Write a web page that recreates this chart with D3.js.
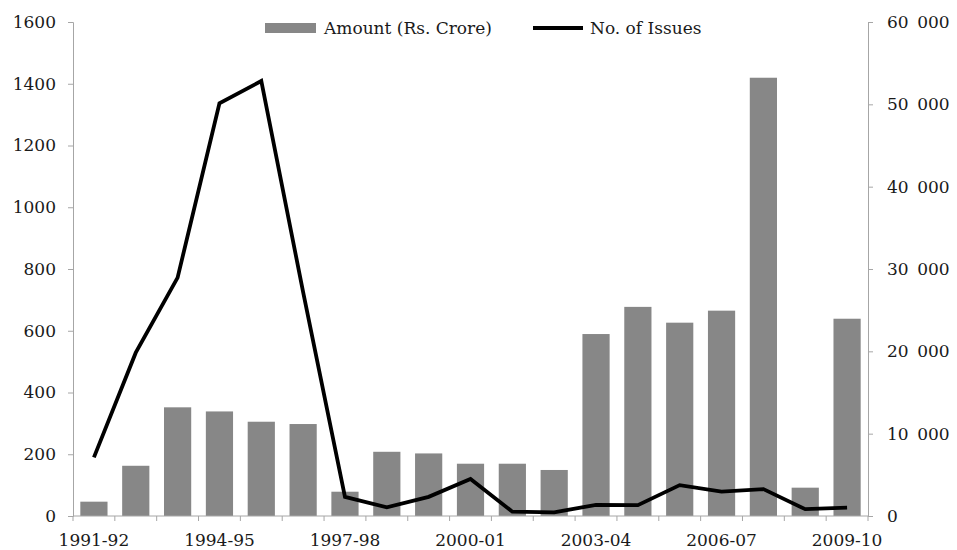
<!DOCTYPE html>
<html>
<head>
<meta charset="utf-8">
<script src="https://cdn.jsdelivr.net/npm/d3@7"></script>
<style>
  body { margin: 0; background: #fff; }
  svg text { font-family: "DejaVu Serif", serif; fill: #1a1a1a; }
</style>
</head>
<body>
<svg id="canvas" width="957" height="550"></svg>
<script>
// data
var years = ["1991-92","1992-93","1993-94","1994-95","1995-96","1996-97","1997-98","1998-99","1999-00",
             "2000-01","2001-02","2002-03","2003-04","2004-05","2005-06","2006-07","2007-08","2008-09","2009-10"]
var amount = [1740, 6100, 13200, 12700, 11450, 11170, 2950, 7800, 7600, 6350, 6350, 5590,
              22100, 25400, 23480, 24940, 53230, 3440, 23960]   // Rs. crore, right axis
var issues = [190, 529, 772, 1337, 1409, 725, 62, 28, 62, 120, 14, 12, 36, 35, 100, 79, 87, 22, 27]  // left axis
var leftTicks = [0, 200, 400, 600, 800, 1000, 1200, 1400, 1600]
var rightTicks = [0, 10000, 20000, 30000, 40000, 50000, 60000]
var shownYears = ["1991-92","1994-95","1997-98","2000-01","2003-04","2006-07","2009-10"]

var w = 957, h = 550
var margin = {top: 22, right: 89, bottom: 34, left: 73}
var svg = d3.select("#canvas")

var x = d3.scaleBand().domain(years)
        .range([margin.left, w - margin.right])
        .paddingInner(0.35).paddingOuter(0.175)
var yL = d3.scaleLinear().domain([0, 1600]).range([h - margin.bottom, margin.top])
var yR = d3.scaleLinear().domain([0, 60000]).range([h - margin.bottom, margin.top])

var axisColor = "#a6a6a6"

//bars
svg.append("g").selectAll("rect")
        .data(years)
        .join("rect")
        .attr("x", d => x(d))
        .attr("width", x.bandwidth())
        .attr("y", (d, i) => yR(amount[i]))
        .attr("height", (d, i) => yR(0) - yR(amount[i]))
        .attr("fill", "#878787")

//left axis
var gL = svg.append("g")
        .attr("transform", "translate(" + margin.left + ",0)")
        .call(d3.axisLeft(yL).tickValues(leftTicks).tickSize(5).tickPadding(12).tickFormat(d3.format("d")))
gL.selectAll("text").style("font-size", "17px")

//right axis
var gR = svg.append("g")
        .attr("transform", "translate(" + (w - margin.right) + ",0)")
        .call(d3.axisRight(yR).tickValues(rightTicks).tickSize(5).tickPadding(14)
              .tickFormat(d => d == 0 ? "0" : d3.format("d")(d / 1000) + "\u2002000"))
gR.selectAll("text").style("font-size", "17px")

//bottom axis: labels every third year, ticks on band edges
var gB = svg.append("g")
        .attr("transform", "translate(0," + (h - margin.bottom) + ")")
        .call(d3.axisBottom(x).tickValues(shownYears).tickSize(0).tickPadding(18).tickSizeOuter(0))
gB.selectAll("text").style("font-size", "17px")
gB.select(".domain").attr("d", "M" + margin.left + ",0H" + (w - margin.right))
var half = (x.step() - x.bandwidth()) / 2
var edges = years.map(d => x(d) - half).concat([x(years[years.length - 1]) + x.bandwidth() + half])
gB.selectAll(".edge")
        .data(edges)
        .join("line")
        .attr("class", "edge")
        .attr("x1", d => d).attr("x2", d => d)
        .attr("y1", 0).attr("y2", 5)
        .attr("stroke", axisColor)

svg.selectAll(".domain, .tick line").attr("stroke", axisColor)

//line
var line = d3.line()
        .x((d, i) => x(years[i]) + x.bandwidth() / 2)
        .y(d => yL(d))
svg.append("path")
        .datum(issues)
        .attr("d", line)
        .attr("fill", "none")
        .attr("stroke", "#000")
        .attr("stroke-width", 3.8)
        .attr("stroke-linejoin", "miter")

//legend
var lg = svg.append("g")
lg.append("rect").attr("x", 265).attr("y", 23).attr("width", 51).attr("height", 10).attr("fill", "#878787")
lg.append("text").attr("x", 324).attr("y", 34).style("font-size", "17px").text("Amount (Rs. Crore)")
lg.append("line").attr("x1", 533).attr("x2", 583).attr("y1", 28).attr("y2", 28)
        .attr("stroke", "#000").attr("stroke-width", 3.8)
lg.append("text").attr("x", 590).attr("y", 34).style("font-size", "17px").text("No. of Issues")
</script>
</body>
</html>
